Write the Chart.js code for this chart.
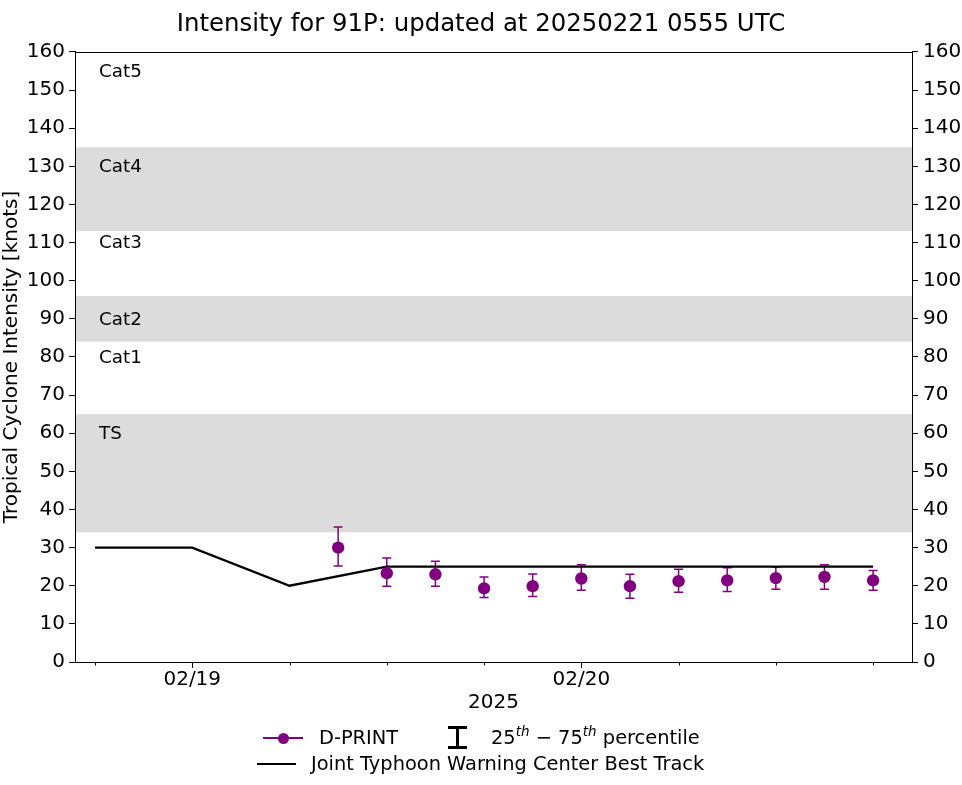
<!DOCTYPE html>
<html>
<head>
<meta charset="utf-8">
<script src="https://cdn.jsdelivr.net/npm/chart.js@4.4.1/dist/chart.umd.min.js"></script>
<style>
  html, body { margin: 0; padding: 0; background: #fff; }
  #wrap { position: relative; width: 962px; height: 785px; font-family: "DejaVu Sans", sans-serif; }
  canvas { position: absolute; left: 0; top: 0; }
  .lg { position: absolute; font-size: 19.4px; color: #000; white-space: nowrap; line-height: 24px; }
  .ln { position: absolute; height: 2px; }
  .dot { position: absolute; width: 11px; height: 11px; border-radius: 50%; background: #800080; }
  .eb { position: absolute; background: #000; }
  sup { font-size: 13.5px; vertical-align: 0; position: relative; top: -8px; }
</style>
</head>
<body>
<div id="wrap">
  <canvas id="c" width="962" height="785"></canvas>
  <!-- legend -->
  <div class="ln" style="left:263px; top:737px; width:40px; background:#800080;"></div>
  <div class="dot" style="left:277.5px; top:732.5px;"></div>
  <div class="lg" style="left:319px; top:726px;">D-PRINT</div>
  <div class="eb" style="left:448px; top:726px; width:19px; height:3px;"></div>
  <div class="eb" style="left:456px; top:727px; width:3px; height:21px;"></div>
  <div class="eb" style="left:448px; top:746px; width:19px; height:3px;"></div>
  <div class="lg" style="left:491px; top:726px;">25<sup><i>th</i></sup> − 75<sup><i>th</i></sup> percentile</div>
  <div class="ln" style="left:257px; top:763px; width:39px; background:#000;"></div>
  <div class="lg" style="left:311px; top:752px;">Joint Typhoon Warning Center Best Track</div>
</div>
<script>
// ---- data ----
const bestTrackTimes = ['2025-02-18T18:00Z','2025-02-19T00:00Z','2025-02-19T06:00Z','2025-02-19T12:00Z','2025-02-19T18:00Z','2025-02-20T00:00Z','2025-02-20T06:00Z','2025-02-20T12:00Z','2025-02-20T18:00Z'];
const bestTrackKnots = [30, 30, 20, 25, 25, 25, 25, 25, 25];

const dprintTimes = ['2025-02-19T09:00Z','2025-02-19T12:00Z','2025-02-19T15:00Z','2025-02-19T18:00Z','2025-02-19T21:00Z','2025-02-20T00:00Z','2025-02-20T03:00Z','2025-02-20T06:00Z','2025-02-20T09:00Z','2025-02-20T12:00Z','2025-02-20T15:00Z','2025-02-20T18:00Z'];
const dprintKnots = [30.0, 23.3, 23.0, 19.3, 19.9, 21.9, 19.9, 21.2, 21.4, 22.0, 22.3, 21.4];
const dprintP25   = [25.2, 19.9, 19.9, 16.9, 17.2, 18.8, 16.7, 18.3, 18.5, 19.1, 19.1, 18.8];
const dprintP75   = [35.4, 27.3, 26.4, 22.3, 23.1, 25.5, 23.0, 24.3, 24.7, 24.9, 25.5, 24.0];

const xAxisMin = '2025-02-18T16:46Z';
const xAxisMax = '2025-02-20T20:24Z';
const xTickTimes  = ['2025-02-18T18:00Z','2025-02-19T00:00Z','2025-02-19T06:00Z','2025-02-19T12:00Z','2025-02-19T18:00Z','2025-02-20T00:00Z','2025-02-20T06:00Z','2025-02-20T12:00Z','2025-02-20T18:00Z'];
const xTickLabels = ['', '02/19', '', '', '', '02/20', '', '', ''];
const yTicks = [0,10,20,30,40,50,60,70,80,90,100,110,120,130,140,150,160];

const catLabels     = ['TS', 'Cat1', 'Cat2', 'Cat3', 'Cat4', 'Cat5'];
const catLabelKnots = [60, 80, 90, 110, 130, 155];
const bandLow  = [34, 84, 113];
const bandHigh = [65, 96, 135];

const titleText = 'Intensity for 91P: updated at 20250221 0555 UTC';
const yTitle = 'Tropical Cyclone Intensity [knots]';
const xTitle = '2025';

// ---- derived ----
const bt = bestTrackTimes.map((t, i) => ({ x: Date.parse(t), y: bestTrackKnots[i] }));
const dp = dprintTimes.map((t, i) => ({ x: Date.parse(t), y: dprintKnots[i], lo: dprintP25[i], hi: dprintP75[i] }));
const xTickVals = xTickTimes.map(t => Date.parse(t));

const FONT = 'DejaVu Sans';
const tickFont = { family: FONT, size: 20 };

const decor = {
  id: 'decor',
  beforeDatasetsDraw(chart) {
    const { ctx, chartArea: a, scales } = chart;
    const y = scales.y, x = scales.x;
    ctx.save();
    ctx.fillStyle = '#dcdcdc';
    for (let i = 0; i < bandLow.length; i++) {
      const top = y.getPixelForValue(bandHigh[i]);
      const bot = y.getPixelForValue(bandLow[i]);
      ctx.fillRect(a.left, top, a.right - a.left, bot - top);
    }
    ctx.fillStyle = '#000';
    ctx.font = '18.3px "' + FONT + '"';
    ctx.textBaseline = 'middle';
    ctx.textAlign = 'left';
    for (let i = 0; i < catLabels.length; i++) {
      ctx.fillText(catLabels[i], a.left + 24, y.getPixelForValue(catLabelKnots[i]) + 1);
    }
    // error bars
    ctx.strokeStyle = '#800080';
    ctx.lineWidth = 1.5;
    dp.forEach(p => {
      const px = x.getPixelForValue(p.x);
      const pl = y.getPixelForValue(p.lo), ph = y.getPixelForValue(p.hi);
      ctx.beginPath();
      ctx.moveTo(px, pl); ctx.lineTo(px, ph);
      ctx.moveTo(px - 4.5, pl); ctx.lineTo(px + 4.5, pl);
      ctx.moveTo(px - 4.5, ph); ctx.lineTo(px + 4.5, ph);
      ctx.stroke();
    });
    ctx.restore();
  },
  afterDraw(chart) {
    const { ctx, chartArea: a, scales } = chart;
    ctx.save();
    ctx.strokeStyle = '#000';
    ctx.lineWidth = 1;
    ctx.strokeRect(Math.round(a.left) + 0.5, Math.round(a.top) + 0.5, Math.round(a.right - a.left), Math.round(a.bottom - a.top));
    // minor x ticks
    ctx.beginPath();
    xTickVals.forEach((v, i) => {
      if (xTickLabels[i] === '') {
        const px = Math.round(scales.x.getPixelForValue(v)) + 0.5;
        ctx.moveTo(px, a.bottom); ctx.lineTo(px, a.bottom + 3.5);
      }
    });
    ctx.stroke();
    ctx.restore();
  }
};

new Chart(document.getElementById('c'), {
  type: 'scatter',
  data: {
    datasets: [
      {
        label: 'Joint Typhoon Warning Center Best Track',
        data: bt,
        showLine: true,
        borderColor: '#000',
        borderWidth: 2.3,
        pointRadius: 0,
        fill: false,
        order: 2
      },
      {
        label: 'D-PRINT',
        data: dp,
        showLine: false,
        backgroundColor: '#800080',
        borderColor: '#800080',
        borderWidth: 0,
        pointRadius: 6.2,
        pointHoverRadius: 6.2,
        order: 1
      }
    ]
  },
  options: {
    responsive: false,
    animation: false,
    devicePixelRatio: 1,
    events: [],
    layout: { padding: { left: 0, right: 0, top: 0, bottom: 70 } },
    plugins: {
      legend: { display: false },
      tooltip: { enabled: false },
      title: {
        display: true,
        text: titleText,
        color: '#000',
        font: { family: FONT, size: 24.4, weight: 'normal' },
        padding: { top: 10.4, bottom: 12.3 }
      }
    },
    scales: {
      x: {
        type: 'linear',
        min: Date.parse(xAxisMin),
        max: Date.parse(xAxisMax),
        afterBuildTicks: s => { s.ticks = xTickVals.map(v => ({ value: v })); },
        afterFit: s => { s.height = 53; },
        ticks: {
          autoSkip: false,
          maxRotation: 0,
          color: '#000',
          font: tickFont,
          padding: 0,
          callback: (v, i) => xTickLabels[i]
        },
        grid: {
          drawOnChartArea: false,
          tickLength: 6,
          tickColor: c => (xTickLabels[c.index] ? '#000' : 'rgba(0,0,0,0)')
        },
        border: { color: '#000', width: 1 },
        title: { display: true, text: xTitle, color: '#000', font: tickFont, padding: { top: 0, bottom: 0 } }
      },
      y: {
        min: 0, max: 160,
        afterBuildTicks: s => { s.ticks = yTicks.map(v => ({ value: v })); },
        afterFit: s => { s.width = 75; },
        ticks: { color: '#000', font: tickFont, padding: 4 },
        grid: { drawOnChartArea: false, tickLength: 6, tickColor: '#000' },
        border: { color: '#000', width: 1 },
        title: { display: true, text: yTitle, color: '#000', font: tickFont, padding: { top: 0, bottom: 0 } }
      },
      y2: {
        position: 'right',
        min: 0, max: 160,
        afterBuildTicks: s => { s.ticks = yTicks.map(v => ({ value: v })); },
        afterFit: s => { s.width = 50; },
        ticks: { color: '#000', font: tickFont, padding: 5 },
        grid: { drawOnChartArea: false, tickLength: 6, tickColor: '#000' },
        border: { color: '#000', width: 1 }
      }
    }
  },
  plugins: [decor]
});
</script>
</body>
</html>
